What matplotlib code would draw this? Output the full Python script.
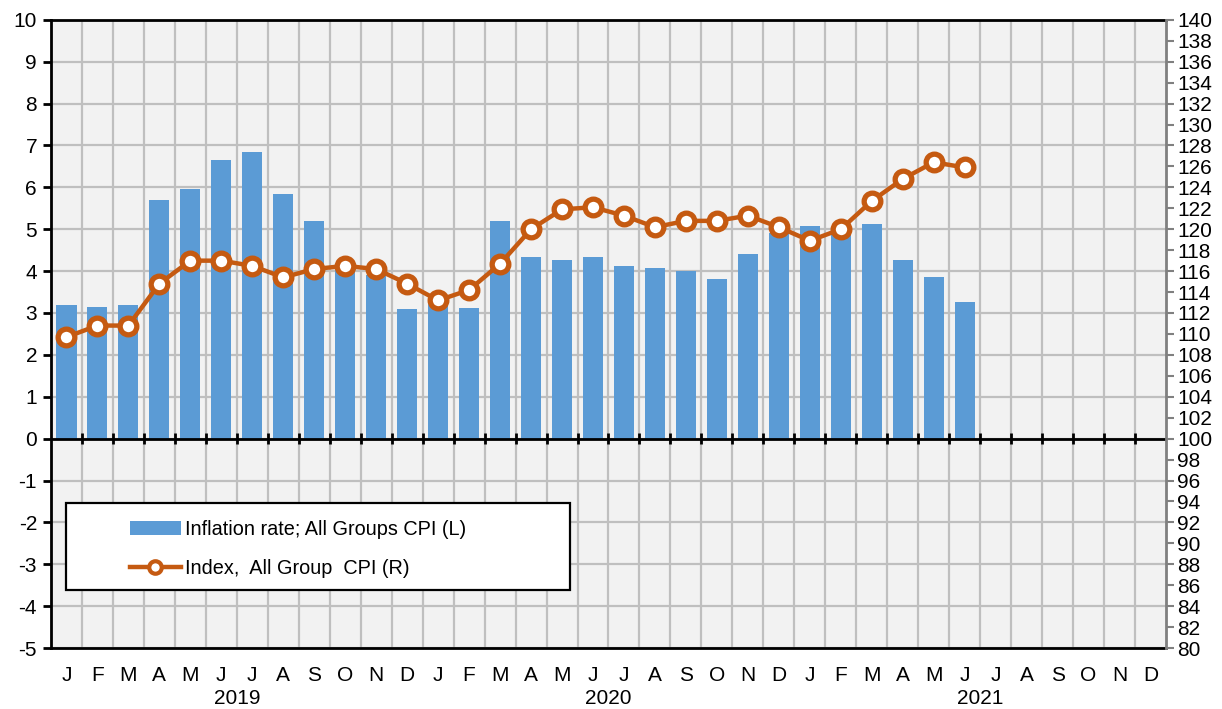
import numpy as np
import matplotlib.pyplot as plt
from matplotlib.patches import Rectangle
from matplotlib.lines import Line2D
from matplotlib.transforms import blended_transform_factory

plt.rcParams['font.family'] = ['Liberation Sans', 'DejaVu Sans']
plt.rcParams['axes.unicode_minus'] = False

# --- Data ---
months = ['J', 'F', 'M', 'A', 'M', 'J', 'J', 'A', 'S', 'O', 'N', 'D'] * 3
years = ['2019', '2020', '2021']

# Inflation rate (left axis), Jan 2019 - Jun 2021
inflation = [3.2, 3.15, 3.2, 5.7, 5.95, 6.65, 6.85, 5.85, 5.2, 4.15, 3.9, 3.1,
             3.3, 3.12, 5.2, 4.33, 4.27, 4.34, 4.13, 4.07, 4.0, 3.8, 4.41, 4.9,
             5.07, 4.95, 5.13, 4.27, 3.87, 3.27]

# CPI index (right axis)
cpi_index = [109.7, 110.8, 110.8, 114.8, 117.0, 117.0, 116.5, 115.4, 116.2, 116.5, 116.2, 114.8,
             113.2, 114.2, 116.7, 120.0, 121.9, 122.1, 121.3, 120.2, 120.8, 120.8, 121.3, 120.2,
             118.9, 120.0, 122.7, 124.8, 126.4, 125.9]

bar_color = '#5B9BD5'
line_color = '#C55A11'

fig = plt.figure(figsize=(12.22, 7.09), dpi=100)
ax = fig.add_axes([0.0417, 0.086, 0.9125, 0.886])
ax.set_facecolor('#F2F2F2')

x_all = np.arange(len(months)) + 0.5
x_data = x_all[:len(inflation)]

# --- Grid ---
ax.set_xlim(0, len(months))
ax.set_ylim(-5, 10)
ax.set_yticks(np.arange(-5, 11, 1))
ax.set_xticks(np.arange(1, len(months)), minor=True)
ax.grid(axis='y', which='major', color='#BFBFBF', linewidth=1.6)
ax.grid(axis='x', which='minor', color='#BFBFBF', linewidth=1.6)
ax.set_axisbelow(True)

# --- Bars ---
ax.bar(x_data, inflation, width=0.65, color=bar_color, zorder=2,
       label='Inflation rate; All Groups CPI (L)')

# zero line with month-boundary ticks
ax.axhline(0, color='black', linewidth=2, zorder=3)
ax.vlines(np.arange(1, len(months)), -0.13, 0.13, color='black', linewidth=2, zorder=3)

# --- X axis labels ---
ax.set_xticks(x_all)
ax.set_xticklabels(months, fontsize=15)
ax.tick_params(axis='x', which='both', length=0, pad=13)
trans = blended_transform_factory(ax.transData, ax.transAxes)
for i, yr in enumerate(years):
    ax.text(12 * i + 6, -0.081, yr, transform=trans, ha='center', va='center', fontsize=15)

# --- Left axis ---
ax.tick_params(axis='y', labelsize=15, width=2, length=6, color='black', pad=4)
for s in ['left', 'top', 'bottom']:
    ax.spines[s].set_linewidth(2)
    ax.spines[s].set_color('black')
ax.spines['right'].set_visible(False)

# --- Right axis ---
ax2 = ax.twinx()
ax2.set_ylim(80, 140)
ax2.set_yticks(np.arange(80, 141, 2))
ax2.tick_params(axis='y', labelsize=15, width=1.5, length=6, color='#808080', pad=2)
for s in ['left', 'top', 'bottom']:
    ax2.spines[s].set_visible(False)
ax2.spines['right'].set_color('#808080')
ax2.spines['right'].set_linewidth(2)

ax2.plot(x_data, cpi_index, color=line_color, linewidth=3.2, marker='o', markersize=12,
         markerfacecolor='white', markeredgecolor=line_color, markeredgewidth=3.8, zorder=4)

# --- Legend ---
ax.add_patch(Rectangle((0.0135, 0.092), 0.452, 0.139, transform=ax.transAxes,
                       facecolor='white', edgecolor='black', linewidth=1.6, zorder=5))
handles = [Rectangle((0, 0), 1, 1, facecolor=bar_color),
           Line2D([], [], color=line_color, linewidth=3.2, marker='o', markersize=9,
                  markerfacecolor='white', markeredgecolor=line_color, markeredgewidth=3)]
labels = ['Inflation rate; All Groups CPI (L)', 'Index,  All Group  CPI (R)']
leg = ax.legend(handles, labels, loc='center', bbox_to_anchor=(0.2215, 0.158),
                bbox_transform=ax.transAxes, frameon=False, fontsize=14.3,
                handlelength=2.55, handleheight=0.7, handletextpad=0.2, labelspacing=1.0)
leg.set_zorder(6)

fig.savefig('out.png', dpi=100, facecolor='white')
